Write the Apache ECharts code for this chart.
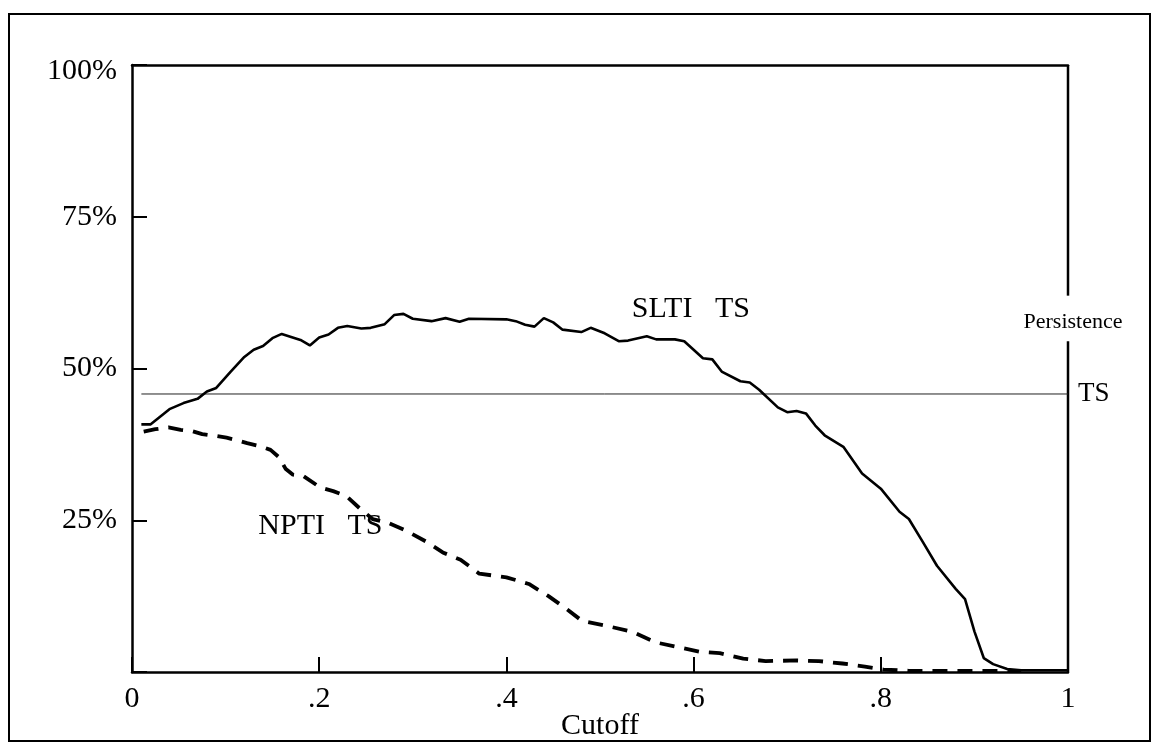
<!DOCTYPE html>
<html>
<head>
<meta charset="utf-8">
<script src="https://cdn.jsdelivr.net/npm/echarts/dist/echarts.min.js"></script>
<style>
  html, body { margin: 0; padding: 0; background: #fff; }
  #chart { width: 1152px; height: 743px; }
</style>
</head>
<body>
<div id="chart"></div>
<script>
// SLTI TS (solid)
const sltiX = [0.01,0.02,0.04,0.055,0.07,0.08,0.09,0.105,0.12,0.13,0.14,0.15,0.16,0.18,0.19,0.20,0.21,0.22,0.23,0.245,0.255,0.27,0.28,0.29,0.30,0.32,0.335,0.35,0.36,0.40,0.41,0.42,0.43,0.44,0.45,0.46,0.48,0.49,0.505,0.52,0.53,0.55,0.56,0.58,0.59,0.60,0.61,0.62,0.63,0.65,0.66,0.67,0.69,0.70,0.71,0.72,0.73,0.74,0.76,0.78,0.80,0.82,0.83,0.845,0.86,0.88,0.89,0.90,0.91,0.92,0.935,0.95,1.00];
const sltiY = [40.8,40.8,43.3,44.3,45.0,46.2,46.8,49.4,51.9,53.1,53.7,55.0,55.7,54.7,53.8,55.1,55.6,56.7,57.0,56.6,56.7,57.3,58.8,59.0,58.2,57.8,58.3,57.7,58.2,58.1,57.8,57.2,56.9,58.3,57.6,56.4,56.0,56.7,55.8,54.5,54.6,55.3,54.8,54.8,54.5,53.1,51.7,51.5,49.5,47.9,47.7,46.5,43.6,42.8,43.0,42.6,40.6,39.0,37.1,32.7,30.2,26.4,25.2,21.4,17.5,13.7,12.0,6.7,2.3,1.3,0.5,0.3,0.3];

// NPTI TS (dashed)
const nptiX = [0.0125,0.025,0.039,0.052,0.064,0.075,0.089,0.101,0.114,0.123,0.137,0.148,0.157,0.164,0.172,0.183,0.201,0.215,0.229,0.243,0.257,0.273,0.294,0.314,0.332,0.351,0.371,0.400,0.424,0.445,0.465,0.481,0.510,0.535,0.559,0.583,0.608,0.628,0.653,0.677,0.710,0.734,0.759,0.783,0.803,0.83,0.87,0.95];
const nptiY = [39.6,40.0,40.3,39.9,39.7,39.2,38.9,38.6,38.1,37.7,37.2,36.6,35.4,33.5,32.5,32.3,30.4,29.8,29.0,27.0,25.2,24.6,23.2,21.5,19.7,18.5,16.2,15.6,14.5,12.5,10.3,8.4,7.5,6.6,4.9,4.1,3.3,3.1,2.2,1.8,1.9,1.8,1.4,0.9,0.4,0.2,0.2,0.2];

// persistence TS reference line
const persistX = [0.01, 1.0];
const persistY = [45.8, 45.8];

const xTicks = [0, 0.2, 0.4, 0.6, 0.8, 1];
const yTicks = [0, 25, 50, 75, 100];

const FONT = 'Liberation Serif';
const zip = (xs, ys) => xs.map((x, i) => [x, ys[i]]);

const chart = echarts.init(document.getElementById('chart'));

const option = {
  animation: false,
  backgroundColor: '#fff',
  textStyle: { fontFamily: FONT, color: '#000' },
  grid: { left: 132, right: 84, top: 65, bottom: 71, containLabel: false, outerBoundsMode: 'none' },
  xAxis: [{
    type: 'value',
    min: xTicks[0],
    max: xTicks[xTicks.length - 1],
    interval: 0.2,
    name: 'Cutoff',
    nameLocation: 'middle',
    nameGap: 39,
    nameMoveOverlap: false,
    nameTextStyle: { fontFamily: FONT, fontSize: 30, color: '#000' },
    splitLine: { show: false },
    axisLine: { lineStyle: { color: '#000', width: 2.5 } },
    axisTick: { inside: true, length: 15, lineStyle: { color: '#000', width: 2 } },
    axisLabel: {
      margin: 12,
      fontFamily: FONT,
      fontSize: 30,
      color: '#000',
      formatter: v => (v === 0 ? '0' : v === 1 ? '1' : v.toFixed(1).replace(/^0/, ''))
    }
  }, {
    type: 'value',
    position: 'top',
    min: 0,
    max: 1,
    splitLine: { show: false },
    axisLine: { lineStyle: { color: '#000', width: 2.5 } },
    axisTick: { show: false },
    axisLabel: { show: false }
  }],
  yAxis: {
    type: 'value',
    min: yTicks[0],
    max: yTicks[yTicks.length - 1],
    interval: 25,
    splitLine: { show: false },
    axisLine: { show: true, lineStyle: { color: '#000', width: 2.5 } },
    axisTick: { show: true, inside: true, length: 15, lineStyle: { color: '#000', width: 2 } },
    axisLabel: {
      margin: 15,
      fontFamily: FONT,
      fontSize: 30,
      color: '#000',
      formatter: v => (v === 0 ? '' : v === 100 ? '{top|100%}' : v + '%'),
      rich: {
        top: { fontFamily: FONT, fontSize: 30, color: '#000', padding: [12, 0, 0, 0] }
      }
    }
  },
  series: [
    {
      name: 'Persistence TS',
      type: 'line',
      data: zip(persistX, persistY),
      symbol: 'none',
      lineStyle: { color: '#222', width: 1 },
      endLabel: {
        show: true,
        formatter: 'TS',
        distance: 10,
        fontFamily: FONT,
        fontSize: 27,
        color: '#000'
      },
      z: 1
    },
    {
      name: 'SLTI TS',
      type: 'line',
      data: zip(sltiX, sltiY),
      symbol: 'none',
      lineStyle: { color: '#000', width: 2.6 },
      z: 3
    },
    {
      name: 'NPTI TS',
      type: 'line',
      data: zip(nptiX, nptiY),
      symbol: 'none',
      lineStyle: { color: '#000', width: 3.8, type: [15, 10], cap: 'butt' },
      z: 2
    }
  ]
};

chart.setOption(option);

// decorations placed through the axes
const px = p => chart.convertToPixel({ gridIndex: 0 }, p);
const rTop = px([1, 100]), rGapTop = px([1, 62]), rGapBot = px([1, 54.5]), rBot = px([1, 0]);
const persistLbl = px([1, 57.6]);
const sltiLbl = px([0.534, 59.8]);
const nptiLbl = px([0.135, 24.0]);

chart.setOption({
  graphic: [
    {
      type: 'rect',
      shape: { x: 9, y: 14, width: 1141, height: 727 },
      style: { fill: 'none', stroke: '#000', lineWidth: 2 },
      silent: true
    },
    {
      type: 'line',
      shape: { x1: rTop[0], y1: rTop[1], x2: rGapTop[0], y2: rGapTop[1] },
      style: { stroke: '#000', lineWidth: 2.5 }
    },
    {
      type: 'line',
      shape: { x1: rGapBot[0], y1: rGapBot[1], x2: rBot[0], y2: rBot[1] },
      style: { stroke: '#000', lineWidth: 2.5 }
    },
    {
      type: 'text',
      x: persistLbl[0] + 5,
      y: persistLbl[1],
      style: { text: 'Persistence', font: '22px "Liberation Serif"', fill: '#000', align: 'center', verticalAlign: 'middle' }
    },
    {
      type: 'text',
      x: sltiLbl[0],
      y: sltiLbl[1],
      style: { text: 'SLTI   TS', font: '30px "Liberation Serif"', fill: '#000', align: 'left', verticalAlign: 'middle' }
    },
    {
      type: 'text',
      x: nptiLbl[0],
      y: nptiLbl[1],
      style: { text: 'NPTI   TS', font: '30px "Liberation Serif"', fill: '#000', align: 'left', verticalAlign: 'middle' }
    }
  ]
});
</script>
</body>
</html>
